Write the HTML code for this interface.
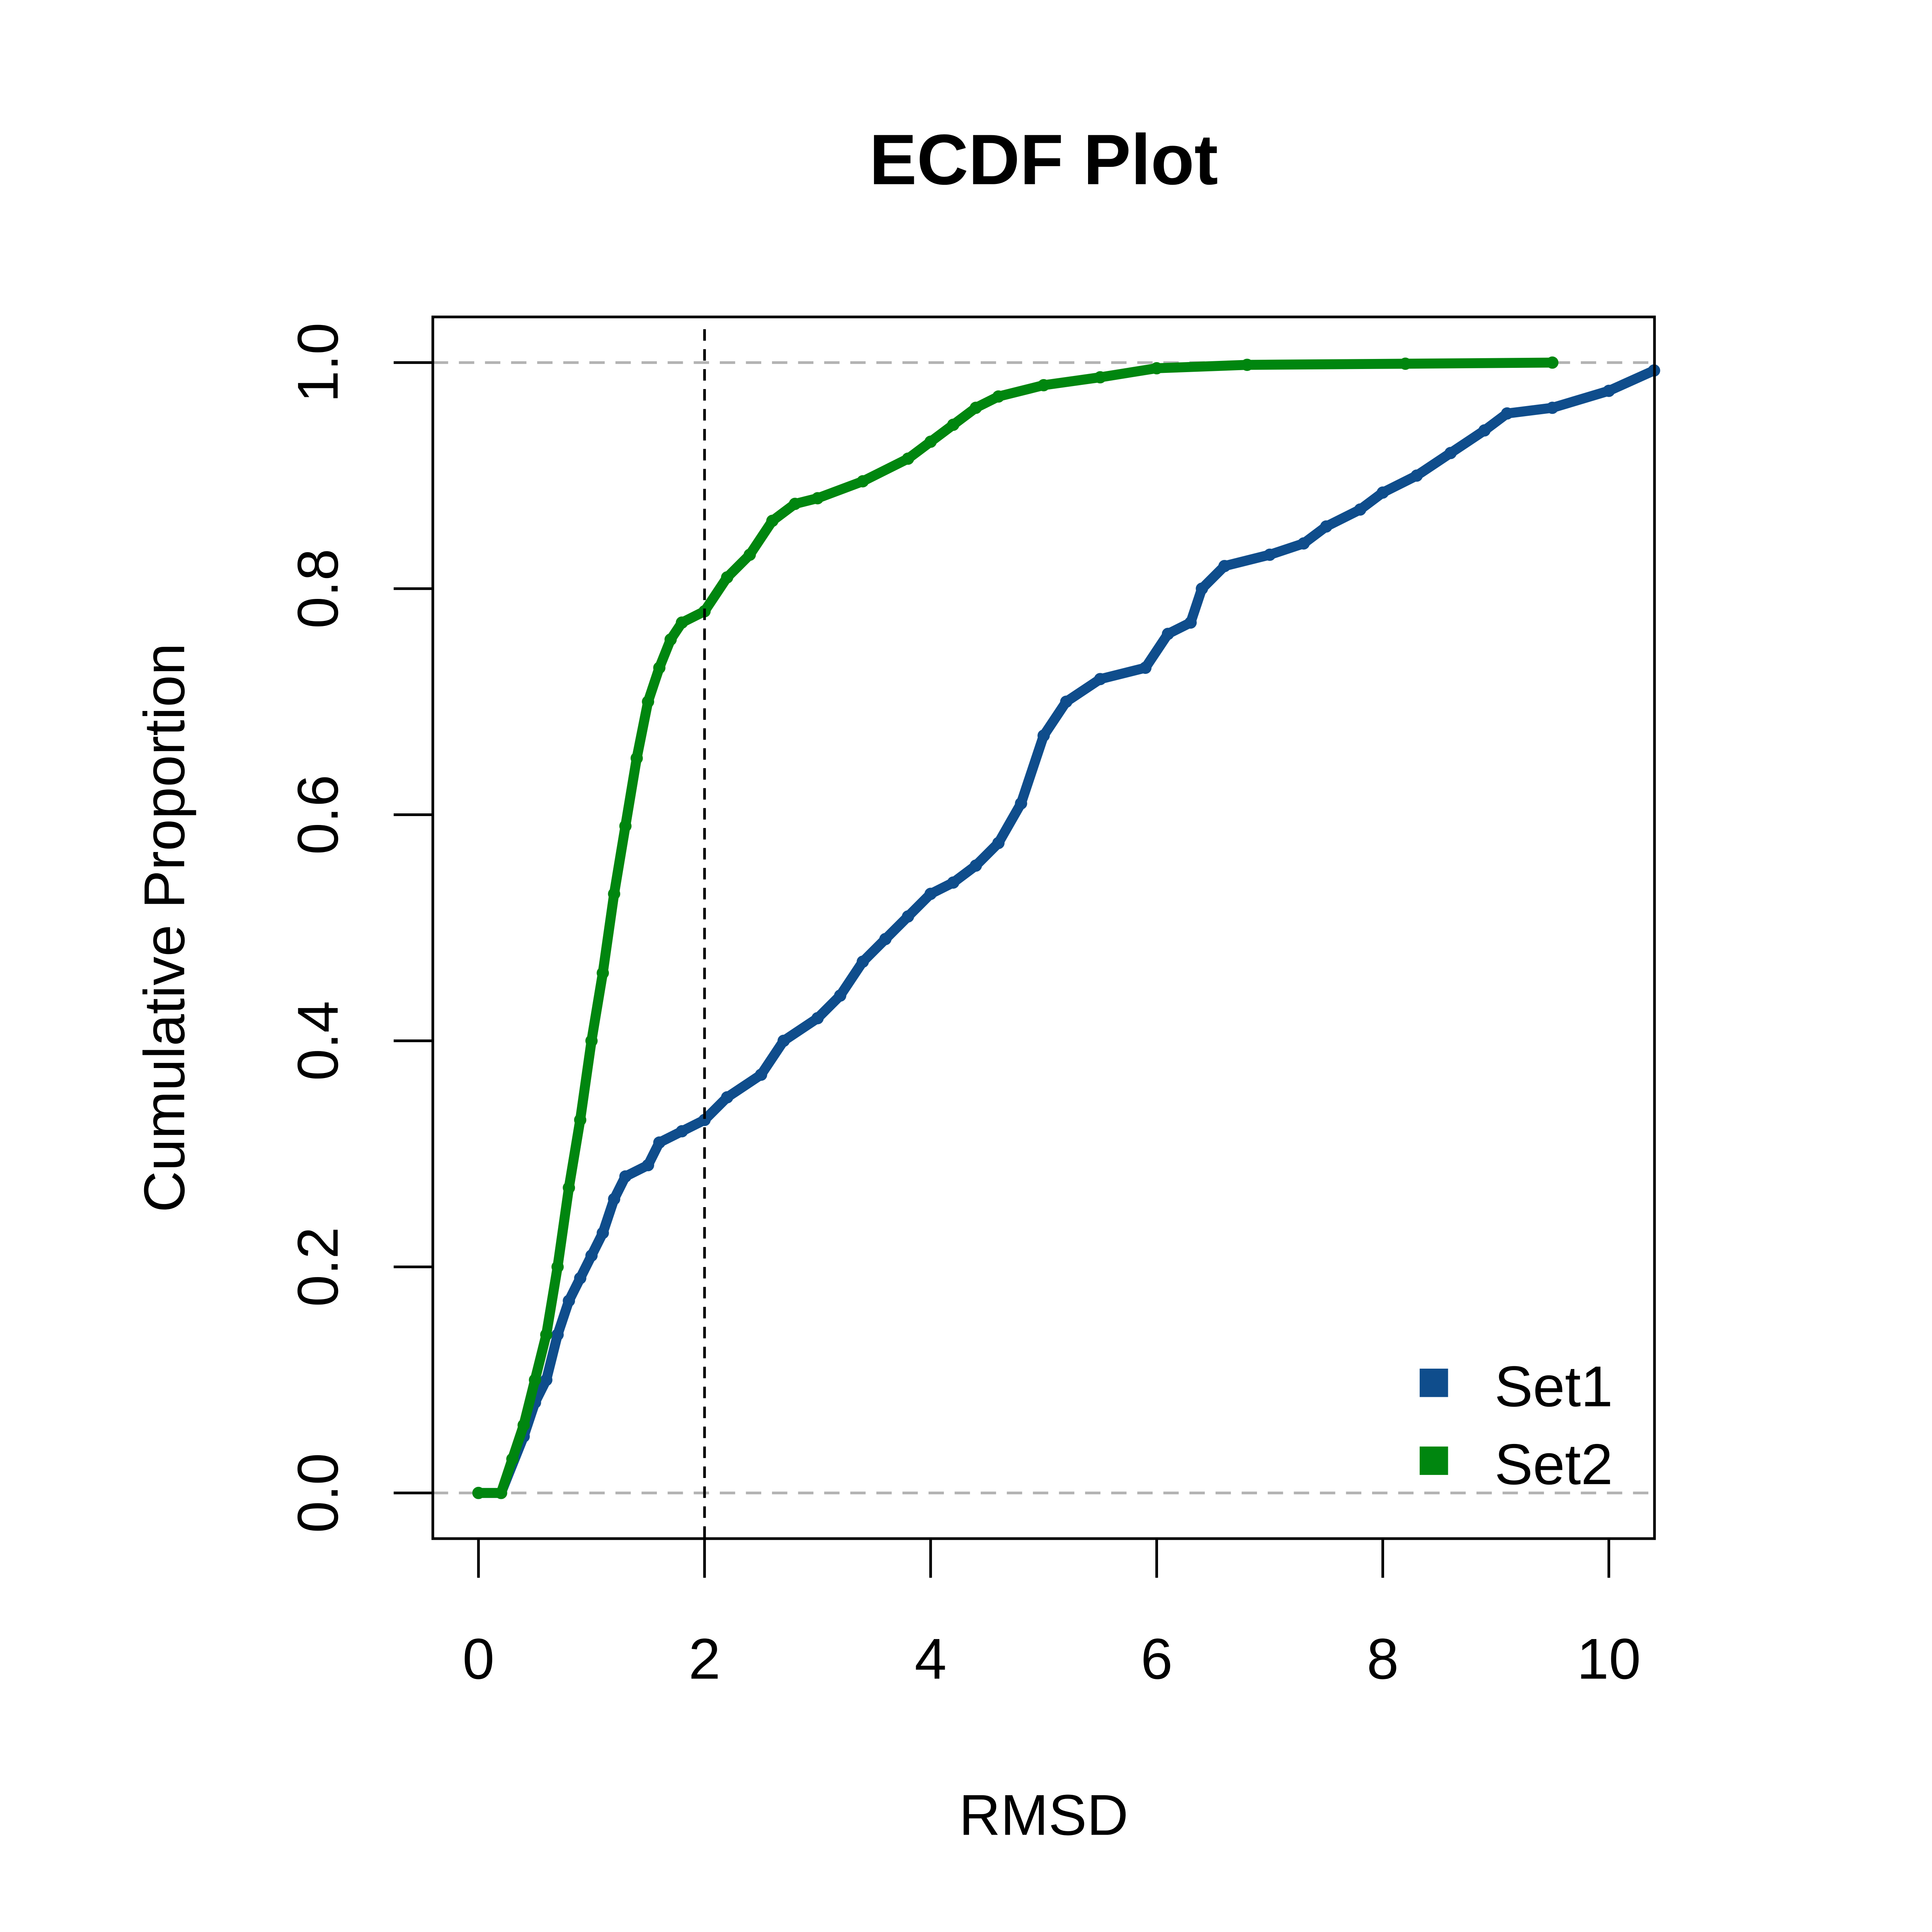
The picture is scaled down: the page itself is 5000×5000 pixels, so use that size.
<!DOCTYPE html>
<html><head><meta charset="utf-8"><style>html,body{margin:0;padding:0;background:#fff}svg{display:block}</style></head>
<body>
<svg id="chart" width="5000" height="5000" viewBox="0 0 5000 5000" xmlns="http://www.w3.org/2000/svg" font-family="Liberation Sans, sans-serif">
<rect width="5000" height="5000" fill="#fff"/>
<g transform="scale(0.993)">
<text x="2720" y="480" font-size="186" font-weight="bold" text-anchor="middle">ECDF Plot</text>
<text x="2720" y="4782" font-size="150" text-anchor="middle">RMSD</text>
<text transform="translate(480,2418) rotate(-90)" font-size="150" text-anchor="middle">Cumulative Proportion</text>
<g id="marks"></g>
<rect x="1128" y="826" width="3184" height="3184" fill="none" stroke="#000" stroke-width="7"/>
<g id="axes"></g>
<g>
<rect x="3700" y="3567" width="74" height="74" fill="#0f4d8c"/>
<text x="3895" y="3665" font-size="150">Set1</text>
<rect x="3700" y="3770" width="74" height="74" fill="#00860f"/>
<text x="3895" y="3868" font-size="150">Set2</text>
</g>
</g>
</svg>
<script>
const xTicks=[0,2,4,6,8,10];
const yTicks=[0,0.2,0.4,0.6,0.8,1.0];
const yTickLabels=["0.0","0.2","0.4","0.6","0.8","1.0"];
const set1X=[0.0,0.2,0.4,0.5,0.6,0.7,0.8,0.9,1.0,1.1,1.2,1.3,1.5,1.6,1.8,2.0,2.2,2.5,2.7,3.0,3.2,3.4,3.6,3.8,4.0,4.2,4.4,4.6,4.8,5.0,5.2,5.5,5.9,6.1,6.3,6.4,6.6,7.0,7.3,7.5,7.8,8.0,8.3,8.6,8.9,9.1,9.5,10.0,10.4];
const set1Y=[0,0,0.05,0.08,0.10,0.14,0.17,0.19,0.21,0.23,0.26,0.28,0.29,0.31,0.32,0.33,0.35,0.37,0.40,0.42,0.44,0.47,0.49,0.51,0.53,0.54,0.555,0.575,0.61,0.67,0.70,0.72,0.73,0.76,0.77,0.80,0.82,0.83,0.84,0.855,0.87,0.885,0.90,0.92,0.94,0.955,0.96,0.975,0.993];
const set2X=[0.0,0.2,0.3,0.4,0.5,0.6,0.7,0.8,0.9,1.0,1.1,1.2,1.3,1.4,1.5,1.6,1.7,1.8,2.0,2.2,2.4,2.6,2.8,3.0,3.4,3.8,4.0,4.2,4.4,4.6,5.0,5.5,6.0,6.8,8.2,9.5];
const set2Y=[0,0,0.03,0.06,0.10,0.14,0.20,0.27,0.33,0.40,0.46,0.53,0.59,0.65,0.70,0.73,0.755,0.77,0.78,0.81,0.83,0.86,0.875,0.88,0.895,0.915,0.93,0.945,0.96,0.97,0.98,0.987,0.995,0.998,0.999,1.0];
const NS="http://www.w3.org/2000/svg";
const xs=v=>1247+v*294.6, ys=v=>3891-v*2946;
const marks=document.getElementById('marks'), axes=document.getElementById('axes');
function mk(tag,attrs,parent){const e=document.createElementNS(NS,tag);for(const k in attrs)e.setAttribute(k,attrs[k]);parent.appendChild(e);return e;}
let g1=mk('line',{x1:1128,x2:4312,y1:ys(0),y2:ys(0),stroke:'#b3b3b3','stroke-width':7,'stroke-dasharray':'40 28'},marks);


let g2=mk('line',{x1:1128,x2:4312,y1:ys(1),y2:ys(1),stroke:'#b3b3b3','stroke-width':7,'stroke-dasharray':'40 28'},marks);


function series(X,Y,color,name){
  const g=mk('g',{},marks);
  
  
  let pts=X.map((x,i)=>xs(x)+','+ys(Y[i])).join(' ');
  mk('polyline',{points:pts,fill:'none',stroke:color,'stroke-width':26,'stroke-linejoin':'round','stroke-linecap':'round'},g);
  X.forEach((x,i)=>{const c=mk('circle',{cx:xs(x),cy:ys(Y[i]),r:16,fill:color},g);
    
    });
}
series(set1X,set1Y,'#0f4d8c','series-set1');
series(set2X,set2Y,'#00860f','series-set2');
let v=mk('line',{x1:xs(2),x2:xs(2),y1:858,y2:4010,stroke:'#000','stroke-width':7,'stroke-dasharray':'30 22'},marks);


xTicks.forEach(t=>{
  const l=mk('line',{x1:xs(t),x2:xs(t),y1:4010,y2:4112,stroke:'#000','stroke-width':7},axes);
  
  
  const tx=mk('text',{x:xs(t),y:4375,'font-size':150,'text-anchor':'middle'},axes);
  tx.textContent=String(t);
  
  
});
yTicks.forEach((t,i)=>{
  const l=mk('line',{x1:1026,x2:1128,y1:ys(t),y2:ys(t),stroke:'#000','stroke-width':7},axes);
  
  
  const tx=mk('text',{transform:'translate(880,'+ys(t)+') rotate(-90)','font-size':150,'text-anchor':'middle'},axes);
  tx.textContent=yTickLabels[i];
  
  
});
</script>
</body></html>
